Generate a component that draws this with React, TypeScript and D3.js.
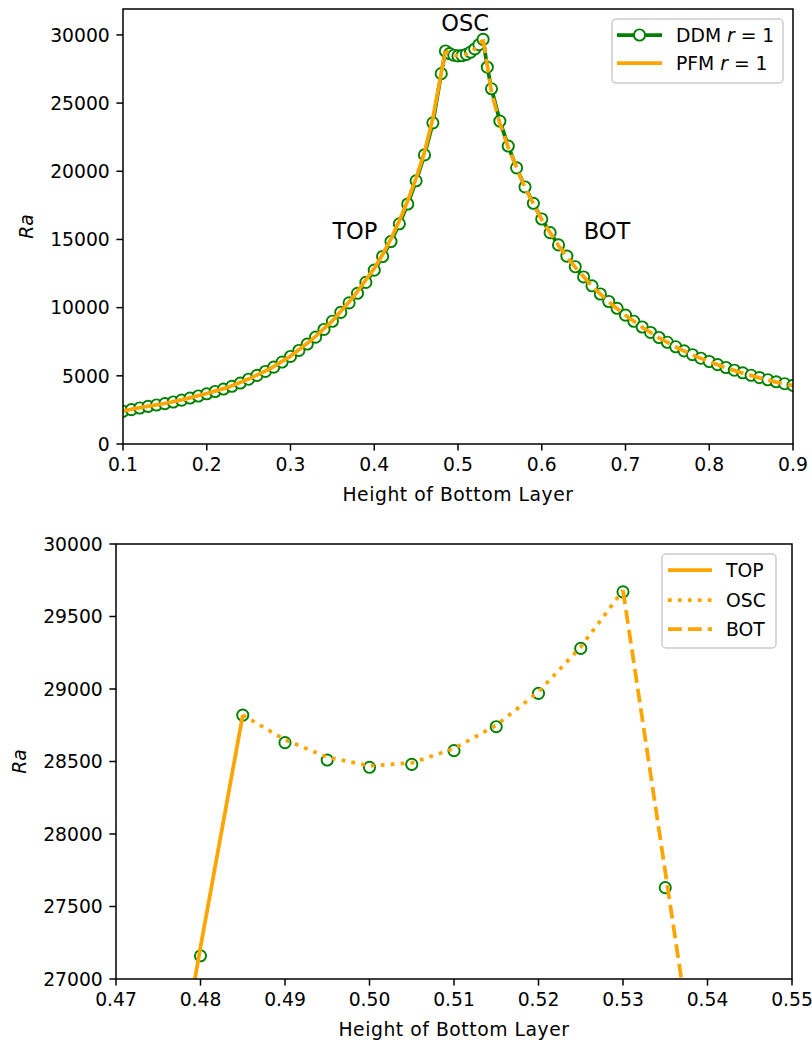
import React from "react";
import * as d3 from "d3";

// ---------- DATA ----------
const ddmX = [
  0.1, 0.11, 0.12, 0.13, 0.14, 0.15, 0.16, 0.17, 0.18, 0.19,
  0.2, 0.21, 0.22, 0.23, 0.24, 0.25, 0.26, 0.27, 0.28, 0.29,
  0.3, 0.31, 0.32, 0.33, 0.34, 0.35, 0.36, 0.37, 0.38, 0.39,
  0.4, 0.41, 0.42, 0.43, 0.44, 0.45, 0.46, 0.47, 0.48, 0.485,
  0.49, 0.495, 0.5, 0.505, 0.51, 0.515, 0.52, 0.525, 0.53, 0.535,
  0.54, 0.55, 0.56, 0.57, 0.58, 0.59, 0.6, 0.61, 0.62, 0.63,
  0.64, 0.65, 0.66, 0.67, 0.68, 0.69, 0.7, 0.71, 0.72, 0.73,
  0.74, 0.75, 0.76, 0.77, 0.78, 0.79, 0.8, 0.81, 0.82, 0.83,
  0.84, 0.85, 0.86, 0.87, 0.88, 0.89, 0.9,
];
const ddmRa = [
  2400, 2520, 2640, 2760, 2860, 2960, 3080, 3220, 3370, 3520,
  3680, 3850, 4030, 4230, 4470, 4750, 5030, 5320, 5640, 6010,
  6420, 6860, 7330, 7840, 8400, 9000, 9650, 10350, 11050, 11850,
  12750, 13750, 14850, 16150, 17600, 19300, 21200, 23550, 27160, 28820,
  28630, 28510, 28460, 28480, 28575, 28740, 28970, 29280, 29670, 27630,
  26050, 23680, 21850, 20250, 18850, 17650, 16500, 15500, 14600, 13780,
  13000, 12250, 11600, 11000, 10450, 9950, 9450, 9000, 8580, 8180,
  7810, 7460, 7130, 6830, 6550, 6290, 6050, 5820, 5610, 5410,
  5220, 5040, 4870, 4710, 4560, 4420, 4300,
];

const pfmTopX = [0.1, 0.125, 0.15, 0.175, 0.2, 0.225, 0.25, 0.275, 0.3, 0.325, 0.35, 0.375, 0.4, 0.41, 0.42, 0.43, 0.44, 0.45, 0.46, 0.47, 0.48, 0.485];
const pfmTopRa = [2420, 2720, 2970, 3310, 3700, 4150, 4760, 5500, 6440, 7620, 9020, 10780, 12880, 13900, 15050, 16380, 17850, 19500, 21400, 23900, 27220, 28820];

const pfmOscX = [0.485, 0.49, 0.495, 0.5, 0.505, 0.51, 0.515, 0.52, 0.525, 0.53];
const pfmOscRa = [28820, 28650, 28530, 28470, 28490, 28590, 28750, 28980, 29290, 29680];

const pfmBotX = [0.53, 0.54, 0.55, 0.56, 0.58, 0.6, 0.62, 0.64, 0.66, 0.68, 0.7, 0.72, 0.74, 0.76, 0.78, 0.8, 0.82, 0.84, 0.86, 0.88, 0.9];
const pfmBotRa = [29680, 25800, 23500, 21750, 18800, 16450, 14550, 12950, 11580, 10420, 9440, 8560, 7790, 7110, 6530, 6030, 5590, 5200, 4850, 4540, 4280];

const topXTicks = [0.1, 0.2, 0.3, 0.4, 0.5, 0.6, 0.7, 0.8, 0.9];
const topYTicks = [0, 5000, 10000, 15000, 20000, 25000, 30000];
const botXTicks = [0.47, 0.48, 0.49, 0.5, 0.51, 0.52, 0.53, 0.54, 0.55];
const botYTicks = [27000, 27500, 28000, 28500, 29000, 29500, 30000];

const annotations = [
  { label: "OSC", x: 0.48, y: 30300 },
  { label: "TOP", x: 0.35, y: 15000 },
  { label: "BOT", x: 0.65, y: 15000 },
];

// ---------- STYLE ----------
const FONT = "DejaVu Sans";
const FS = 18.75;
const GREEN = "#008000";
const ORANGE = "#FFA500";
const LW = 3.75;
const MR = 5.6;
const DASHED = `${3.7 * LW} ${1.6 * LW}`;
const DOTTED = `${1 * LW} ${1.65 * LW}`;

type Pt = [number, number];
const zip = (xs: number[], ys: number[]): Pt[] => xs.map((x, i) => [x, ys[i]]);

function Axes(props: {
  id: string;
  left: number; right: number; top: number; bottom: number;
  xDomain: [number, number]; yDomain: [number, number];
  xTicks: number[]; yTicks: number[];
  xFmt: (v: number) => string;
  children: (x: d3.ScaleLinear<number, number>, y: d3.ScaleLinear<number, number>) => React.ReactNode;
  legend: React.ReactNode;
}) {
  const { id, left, right, top, bottom } = props;
  const x = d3.scaleLinear().domain(props.xDomain).range([left, right]);
  const y = d3.scaleLinear().domain(props.yDomain).range([bottom, top]);
  const tick = 6.6;
  const pad = 6.6;
  return (
    <g>
      <defs>
        <clipPath id={id}>
          <rect x={left} y={top} width={right - left} height={bottom - top} />
        </clipPath>
      </defs>
      <g clipPath={`url(#${id})`}>{props.children(x, y)}</g>
      <rect x={left} y={top} width={right - left} height={bottom - top} fill="none" stroke="#000" strokeWidth={1.5} />
      {props.xTicks.map((t) => (
        <g key={"xt" + t}>
          <line x1={x(t)} x2={x(t)} y1={bottom} y2={bottom + tick} stroke="#000" strokeWidth={1.5} />
          <text x={x(t)} y={bottom + tick + pad + 14} textAnchor="middle" fontFamily={FONT} fontSize={FS}>
            {props.xFmt(t)}
          </text>
        </g>
      ))}
      {props.yTicks.map((t) => (
        <g key={"yt" + t}>
          <line x1={left - tick} x2={left} y1={y(t)} y2={y(t)} stroke="#000" strokeWidth={1.5} />
          <text x={left - tick - pad} y={y(t) + 6.8} textAnchor="end" fontFamily={FONT} fontSize={FS}>
            {String(t)}
          </text>
        </g>
      ))}
      <text
        x={(left + right) / 2}
        y={bottom + 57}
        textAnchor="middle"
        fontFamily={FONT}
        fontSize={FS}
        letterSpacing={0.55}
      >
        Height of Bottom Layer
      </text>
      <text
        transform={`translate(${left - 97 + 6.8},${(top + bottom) / 2}) rotate(-90)`}
        textAnchor="middle"
        fontFamily={FONT}
        fontSize={FS}
        fontStyle="italic"
      >
        Ra
      </text>
      {props.legend}
    </g>
  );
}

export default function App() {
  const ddm = zip(ddmX, ddmRa);
  const pTop = zip(pfmTopX, pfmTopRa);
  const pOsc = zip(pfmOscX, pfmOscRa);
  const pBot = zip(pfmBotX, pfmBotRa);

  const lineFor = (x: d3.ScaleLinear<number, number>, y: d3.ScaleLinear<number, number>) =>
    d3.line<Pt>().x((d) => x(d[0])).y((d) => y(d[1]));

  const legendBox = (x0: number, y0: number, w: number, h: number) => (
    <rect x={x0} y={y0} width={w} height={h} rx={4} ry={4} fill="#fff" fillOpacity={0.8} stroke="#cccccc" strokeWidth={1.5} />
  );

  const topLegend = (
    <g>
      {legendBox(612, 19, 171, 64)}
      <line x1={617} x2={662} y1={35} y2={35} stroke={GREEN} strokeWidth={LW} />
      <circle cx={639.5} cy={35} r={MR} fill="#fff" stroke={GREEN} strokeWidth={1.9} />
      <text x={676} y={35 + 6.8} fontFamily={FONT} fontSize={FS}>
        DDM <tspan fontStyle="italic">r</tspan> = 1
      </text>
      <line x1={617} x2={662} y1={63} y2={63} stroke={ORANGE} strokeWidth={LW} />
      <text x={676} y={63 + 6.8} fontFamily={FONT} fontSize={FS}>
        PFM <tspan fontStyle="italic">r</tspan> = 1
      </text>
    </g>
  );

  const botLegend = (
    <g>
      {legendBox(662, 554, 114, 94)}
      <line x1={668} x2={712} y1={570} y2={570} stroke={ORANGE} strokeWidth={LW} />
      <text x={726} y={570 + 6.8} fontFamily={FONT} fontSize={FS}>TOP</text>
      <line x1={668} x2={712} y1={600} y2={600} stroke={ORANGE} strokeWidth={LW} strokeDasharray={DOTTED} />
      <text x={726} y={600 + 6.8} fontFamily={FONT} fontSize={FS}>OSC</text>
      <line x1={668} x2={712} y1={629} y2={629} stroke={ORANGE} strokeWidth={LW} strokeDasharray={DASHED} />
      <text x={726} y={629 + 6.8} fontFamily={FONT} fontSize={FS}>BOT</text>
    </g>
  );

  return (
    <svg
      width={812}
      height={1043}
      viewBox="0 0 812 1043"
      style={{ position: "absolute", left: 0, top: 0, background: "#fff" }}
    >
      <rect x={0} y={0} width={812} height={1043} fill="#fff" />
      <Axes
        id="clipTop"
        left={123} right={793} top={9} bottom={444}
        xDomain={[0.1, 0.9]} yDomain={[0, 31900]}
        xTicks={topXTicks} yTicks={topYTicks}
        xFmt={(v) => d3.format(".1f")(v)}
        legend={topLegend}
      >
        {(x, y) => {
          const ln = lineFor(x, y);
          return (
            <g>
              <path d={ln(ddm) || ""} fill="none" stroke={GREEN} strokeWidth={LW} />
              {ddm.map((d, i) => (
                <circle key={i} cx={x(d[0])} cy={y(d[1])} r={MR} fill="#fff" stroke={GREEN} strokeWidth={1.9} />
              ))}
              <path d={ln(pTop) || ""} fill="none" stroke={ORANGE} strokeWidth={LW} />
              <path d={ln(pOsc) || ""} fill="none" stroke={ORANGE} strokeWidth={LW} strokeDasharray={DOTTED} />
              <path d={ln(pBot) || ""} fill="none" stroke={ORANGE} strokeWidth={LW} strokeDasharray={DASHED} />
              {annotations.map((a) => (
                <text key={a.label} x={x(a.x)} y={y(a.y)} fontFamily={FONT} fontSize={22.5}>
                  {a.label}
                </text>
              ))}
            </g>
          );
        }}
      </Axes>
      <Axes
        id="clipBot"
        left={116} right={792} top={544} bottom={979}
        xDomain={[0.47, 0.55]} yDomain={[27000, 30000]}
        xTicks={botXTicks} yTicks={botYTicks}
        xFmt={(v) => d3.format(".2f")(v)}
        legend={botLegend}
      >
        {(x, y) => {
          const ln = lineFor(x, y);
          return (
            <g>
              {ddm.map((d, i) => (
                <circle key={i} cx={x(d[0])} cy={y(d[1])} r={MR} fill="none" stroke={GREEN} strokeWidth={1.9} />
              ))}
              <path d={ln(pTop) || ""} fill="none" stroke={ORANGE} strokeWidth={LW} />
              <path d={ln(pOsc) || ""} fill="none" stroke={ORANGE} strokeWidth={LW} strokeDasharray={DOTTED} />
              <path d={ln(pBot) || ""} fill="none" stroke={ORANGE} strokeWidth={LW} strokeDasharray={DASHED} />
            </g>
          );
        }}
      </Axes>
    </svg>
  );
}
